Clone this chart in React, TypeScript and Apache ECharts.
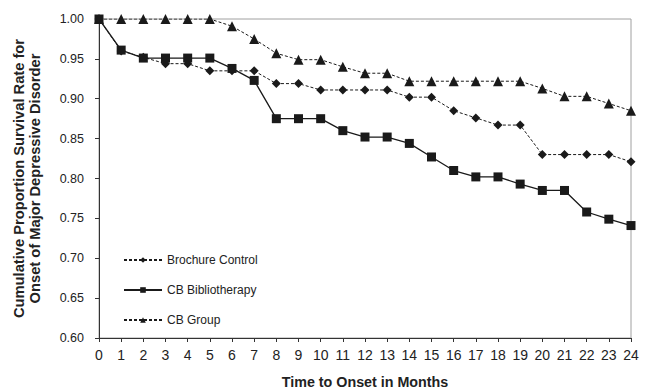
import React, { useEffect, useRef } from "react";
import * as echarts from "echarts";

const months = [0,1,2,3,4,5,6,7,8,9,10,11,12,13,14,15,16,17,18,19,20,21,22,23,24];
const brochure = [1.0,0.96,0.952,0.944,0.944,0.935,0.935,0.935,0.919,0.919,0.911,0.911,0.911,0.911,0.902,0.902,0.885,0.876,0.867,0.867,0.83,0.83,0.83,0.83,0.821];
const biblio = [1.0,0.961,0.951,0.951,0.951,0.951,0.938,0.923,0.875,0.875,0.875,0.86,0.852,0.852,0.844,0.827,0.81,0.802,0.802,0.793,0.785,0.785,0.758,0.749,0.741];
const group = [1.0,1.0,1.0,1.0,1.0,1.0,0.991,0.975,0.957,0.949,0.949,0.94,0.932,0.932,0.922,0.922,0.922,0.922,0.922,0.922,0.913,0.903,0.903,0.894,0.885];
const seriesNames = ["Brochure Control", "CB Bibliotherapy", "CB Group"];

const ink = "#1a1a1a";

export default function App() {
  const ref = useRef<HTMLDivElement>(null);
  useEffect(() => {
    if (!ref.current) return;
    const chart = echarts.init(ref.current, undefined, { renderer: "svg" });
    const mk = (name: string, vals: number[], symbol: string, size: number, dashed: boolean) => ({
      name,
      type: "line",
      data: months.map((m, i) => [m, vals[i]]),
      symbol,
      symbolSize: size,
      showAllSymbol: true,
      itemStyle: { color: ink, borderWidth: 0 },
      lineStyle: { color: ink, width: dashed ? 1 : 1.3, type: dashed ? [3, 2] : "solid" },
      emphasis: { disabled: true },
    });
    chart.setOption({
      animation: false,
      textStyle: { fontFamily: "Arial, Liberation Sans, sans-serif" },
      grid: {
        left: 99, right: 16, top: 19, bottom: 51,
        containLabel: false, outerBoundsMode: "none",
        show: true, borderColor: "#a0a0a0", borderWidth: 1,
      },
      legend: {
        orient: "vertical",
        left: 118,
        top: 249,
        itemWidth: 38,
        itemHeight: 7,
        itemGap: 18,
        textStyle: { fontSize: 12, color: "#222", fontFamily: "Arial, Liberation Sans, sans-serif" },
        data: seriesNames,
      },
      xAxis: {
        type: "value",
        min: 0,
        max: 24,
        interval: 1,
        name: "Time to Onset in Months",
        nameLocation: "middle",
        nameGap: 37,
        nameTextStyle: { fontWeight: "bold", fontSize: 14.3, color: "#222" },
        axisLine: { lineStyle: { color: "#333", width: 1 } },
        axisTick: { show: true, length: 4, lineStyle: { color: "#333" } },
        axisLabel: { fontSize: 14, color: "#222", margin: 10 },
        splitLine: { show: false },
      },
      yAxis: {
        type: "value",
        min: 0.6,
        max: 1.0,
        interval: 0.05,
        name: "Cumulative Proportion Survival Rate for\nOnset of Major Depressive Disorder",
        nameLocation: "middle",
        nameRotate: 90,
        nameGap: 56,
        nameTextStyle: { fontWeight: "bold", fontSize: 14.7, color: "#222", lineHeight: 16 },
        axisLine: { show: true, lineStyle: { color: "#333", width: 1 } },
        axisTick: { show: true, length: 4, lineStyle: { color: "#333" } },
        axisLabel: { fontSize: 12.5, color: "#222", margin: 15, formatter: (v: number) => v.toFixed(2) },
        splitLine: { show: false },
      },
      series: [
        mk(seriesNames[0], brochure, "diamond", 9, true),
        mk(seriesNames[1], biblio, "rect", 9, false),
        mk(seriesNames[2], group, "triangle", 10, true),
      ],
    });
    return () => chart.dispose();
  }, []);
  return <div ref={ref} style={{ position: "absolute", left: 0, top: 0, width: 647, height: 389 }} />;
}
